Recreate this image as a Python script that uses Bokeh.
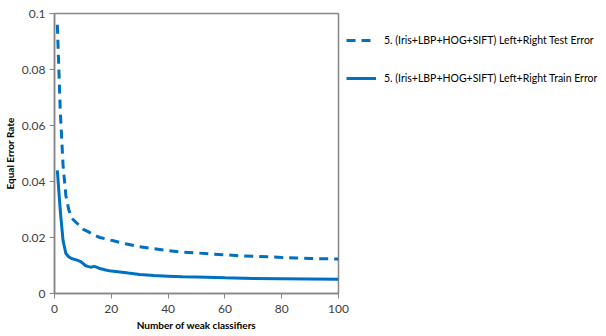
from bokeh.plotting import figure
from bokeh.models import Legend, LegendItem, FixedTicker, Range1d
from bokeh.embed import file_html
from bokeh.resources import INLINE

test_x = [1, 2, 3, 4, 5, 6, 7, 8, 10, 12, 14, 16, 20, 25, 30, 35, 40, 45, 50, 55, 60, 65, 70, 75, 80, 85, 90, 95, 100]
test_y = [0.096, 0.066, 0.046, 0.035, 0.030, 0.027, 0.026, 0.025, 0.023, 0.022, 0.0208, 0.020, 0.019, 0.0178, 0.0167,
          0.016, 0.0153, 0.0148, 0.0145, 0.0141, 0.0138, 0.0135, 0.0133, 0.0131, 0.0129, 0.0127, 0.0125, 0.0124, 0.0123]

train_x = [1, 2, 3, 4, 5, 6, 7, 8, 9, 10, 11, 12, 13, 14, 15, 16, 18, 20, 23, 26, 30, 35, 40, 45, 50, 60, 70, 80, 90, 100]
train_y = [0.044, 0.030, 0.019, 0.0143, 0.0131, 0.0125, 0.0122, 0.0119, 0.0115, 0.0108, 0.0099, 0.0096, 0.0094, 0.0097,
           0.0093, 0.0089, 0.0084, 0.0080, 0.0077, 0.0073, 0.0068, 0.0064, 0.0062, 0.0060, 0.0059, 0.0056, 0.0054,
           0.0053, 0.0052, 0.0051]

x_ticks = [0, 20, 40, 60, 80, 100]
y_ticks = [0, 0.02, 0.04, 0.06, 0.08, 0.1]
y_tick_labels = ["0", "0.02", "0.04", "0.06", "0.08", "0.1"]

test_label = "5. (Iris+LBP+HOG+SIFT) Left+Right Test Error"
train_label = "5. (Iris+LBP+HOG+SIFT) Left+Right Train Error"

FONT = "Lato"
BLUE = "#0070C0"

p = figure(frame_width=284, frame_height=280, output_backend="svg", toolbar_location=None,
           x_range=Range1d(0, 100), y_range=Range1d(0, 0.1),
           min_border_left=54, min_border_right=0, min_border_top=13, min_border_bottom=43)
p.background_fill_color = "white"
p.border_fill_color = "white"
p.outline_line_color = "#868686"
p.outline_line_width = 1.5
p.grid.visible = False

r_test = p.line(test_x, test_y, line_color=BLUE, line_width=3, line_dash="9 6")
r_train = p.line(train_x, train_y, line_color=BLUE, line_width=3)

for ax in (p.xaxis[0], p.yaxis[0]):
    ax.axis_line_color = "#868686"
    ax.axis_line_width = 1.5
    ax.major_tick_line_color = "#868686"
    ax.major_tick_in = 0
    ax.major_tick_out = 5
    ax.minor_tick_line_color = None
    ax.major_label_text_font = FONT
    ax.major_label_text_font_size = "12px"
    ax.major_label_text_color = "#404040"
    ax.axis_label_text_font = FONT
    ax.axis_label_text_font_size = "10px"
    ax.axis_label_text_font_style = "bold"
    ax.axis_label_text_color = "#000000"

p.xaxis.ticker = FixedTicker(ticks=x_ticks)
p.yaxis.ticker = FixedTicker(ticks=y_ticks)
p.yaxis.major_label_overrides = {v: s for v, s in zip(y_ticks, y_tick_labels)}
p.xaxis.axis_label = "Number of weak classifiers"
p.yaxis.axis_label = "Equal Error Rate"
p.xaxis.major_label_standoff = 6
p.yaxis.major_label_standoff = 4
p.xaxis.axis_label_standoff = 3
p.yaxis.axis_label_standoff = 3

legend = Legend(items=[LegendItem(label=test_label, renderers=[r_test]),
                       LegendItem(label=train_label, renderers=[r_train])],
                location="top_left", orientation="vertical",
                glyph_width=30, glyph_height=38, label_height=38, label_standoff=8,
                spacing=0, padding=0, margin=8,
                border_line_color=None, background_fill_alpha=0,
                label_text_font=FONT, label_text_font_size="10.5px", label_text_color="#000000")
p.add_layout(legend, "right")

open("out.html", "w").write(file_html(p, INLINE))
